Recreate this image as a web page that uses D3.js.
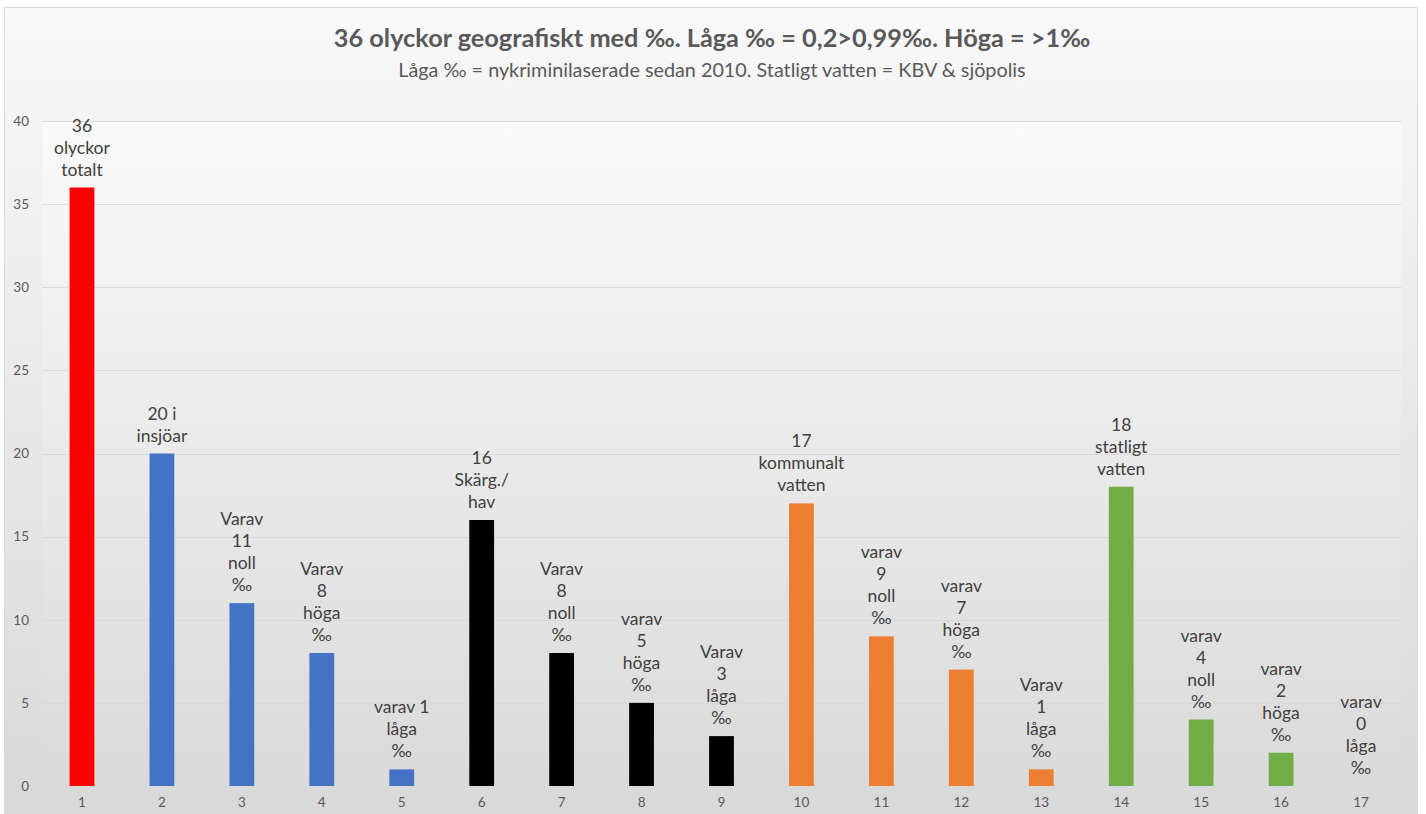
<!DOCTYPE html>
<html><head><meta charset="utf-8">
<script src="https://cdn.jsdelivr.net/npm/d3@7"></script>
<style>
html,body{margin:0;padding:0;background:#fff;}
svg{display:block;}
</style></head>
<body>
<svg id="chart" width="1426" height="814"></svg>
<script>
const title = "36 olyckor geografiskt med ‰. Låga ‰ = 0,2>0,99‰. Höga = >1‰";
const subtitle = "Låga ‰ = nykriminilaserade sedan 2010. Statligt vatten = KBV & sjöpolis";
const categories = ["1","2","3","4","5","6","7","8","9","10","11","12","13","14","15","16","17"];
const values = [36,20,11,8,1,16,8,5,3,17,9,7,1,18,4,2,0];
const barColors = ["#ff0000","#4472c4","#4472c4","#4472c4","#4472c4","#000000","#000000","#000000","#000000","#ed7d31","#ed7d31","#ed7d31","#ed7d31","#70ad47","#70ad47","#70ad47","#70ad47"];
const labels = [
  ["36","olyckor","totalt"],
  ["20 i","insjöar"],
  ["Varav","11","noll","‰"],
  ["Varav","8","höga","‰"],
  ["varav 1","låga","‰"],
  ["16","Skärg./","hav"],
  ["Varav","8","noll","‰"],
  ["varav","5","höga","‰"],
  ["Varav","3","låga","‰"],
  ["17","kommunalt","vatten"],
  ["varav","9","noll","‰"],
  ["varav","7","höga","‰"],
  ["Varav","1","låga","‰"],
  ["18","statligt","vatten"],
  ["varav","4","noll","‰"],
  ["varav","2","höga","‰"],
  ["varav","0","låga","‰"]
];
const yTicks = [0,5,10,15,20,25,30,35,40];

const svg = d3.select("#chart");
const W = 1426, H = 814;
const font = "Lato, 'Open Sans', sans-serif";
const defs = svg.append("defs");
const g1 = defs.append("linearGradient").attr("id","bgGrad").attr("x1",0).attr("y1",0).attr("x2",0).attr("y2",1);
g1.append("stop").attr("offset","0%").attr("stop-color","#f9f9f9");
g1.append("stop").attr("offset","100%").attr("stop-color","#d8d8d8");
const g2 = defs.append("linearGradient").attr("id","plotGrad").attr("x1",0).attr("y1",0).attr("x2",0).attr("y2",1);
g2.append("stop").attr("offset","0%").attr("stop-color","#fafafa");
g2.append("stop").attr("offset","100%").attr("stop-color","#dadada");

svg.append("rect").attr("x",0).attr("y",0).attr("width",W).attr("height",H).attr("fill","#ffffff");
svg.append("rect").attr("x",4.5).attr("y",7.5).attr("width",1413).attr("height",820)
  .attr("fill","url(#bgGrad)").attr("stroke","#d9d9d9").attr("stroke-width",1);

const m = {left:42, right:1401, top:121, bottom:786};
svg.append("rect").attr("x",m.left).attr("y",m.top).attr("width",m.right-m.left).attr("height",m.bottom-m.top)
  .attr("fill","url(#plotGrad)");

const x = d3.scaleBand().domain(categories).range([m.left,m.right]).paddingInner(0.69).paddingOuter(0.345);
const y = d3.scaleLinear().domain([0,40]).range([m.bottom,m.top]);

// gridlines
svg.append("g").selectAll("line").data(yTicks).join("line")
  .attr("x1",m.left).attr("x2",m.right)
  .attr("y1",d=>Math.round(y(d))+0.5).attr("y2",d=>Math.round(y(d))+0.5)
  .attr("stroke","#d9d9d9").attr("stroke-width",1);

// y axis
const yAxis = svg.append("g").attr("transform",`translate(${m.left-13},0)`)
  .call(d3.axisLeft(y).tickValues(yTicks).tickSize(0).tickPadding(0));
yAxis.select(".domain").remove();
yAxis.selectAll("text").attr("fill","#595959").attr("font-family",font).attr("font-size",13.5);

// x axis
const xAxis = svg.append("g").attr("transform",`translate(0,${m.bottom})`)
  .call(d3.axisBottom(x).tickSize(0).tickPadding(11));
xAxis.select(".domain").remove();
xAxis.selectAll("text").attr("fill","#595959").attr("font-family",font).attr("font-size",13.5);

// bars
svg.append("g").selectAll("rect").data(values).join("rect")
  .attr("x",(d,i)=>x(categories[i]))
  .attr("width",x.bandwidth())
  .attr("y",d=>y(d))
  .attr("height",d=>y(0)-y(d))
  .attr("fill",(d,i)=>barColors[i]);

// labels
const lineH = 22;
const lg = svg.append("g").attr("font-family",font).attr("font-size",17.5).attr("fill","#404040").attr("text-anchor","middle");
labels.forEach((lines,i)=>{
  const cx = x(categories[i]) + x.bandwidth()/2;
  const lastBase = y(values[i]) - 12;
  const t = lg.append("text");
  lines.forEach((ln,j)=>{
    t.append("tspan").attr("x",cx).attr("y",lastBase - (lines.length-1-j)*lineH).text(ln);
  });
});

// titles
svg.append("text").attr("x",712).attr("y",47).attr("text-anchor","middle")
  .attr("font-family",font).attr("font-weight","bold").attr("font-size",25.3).attr("fill","#595959").text(title);
svg.append("text").attr("x",712).attr("y",77).attr("text-anchor","middle")
  .attr("font-family",font).attr("font-size",19.8).attr("fill","#595959").text(subtitle);
</script>
</body></html>
